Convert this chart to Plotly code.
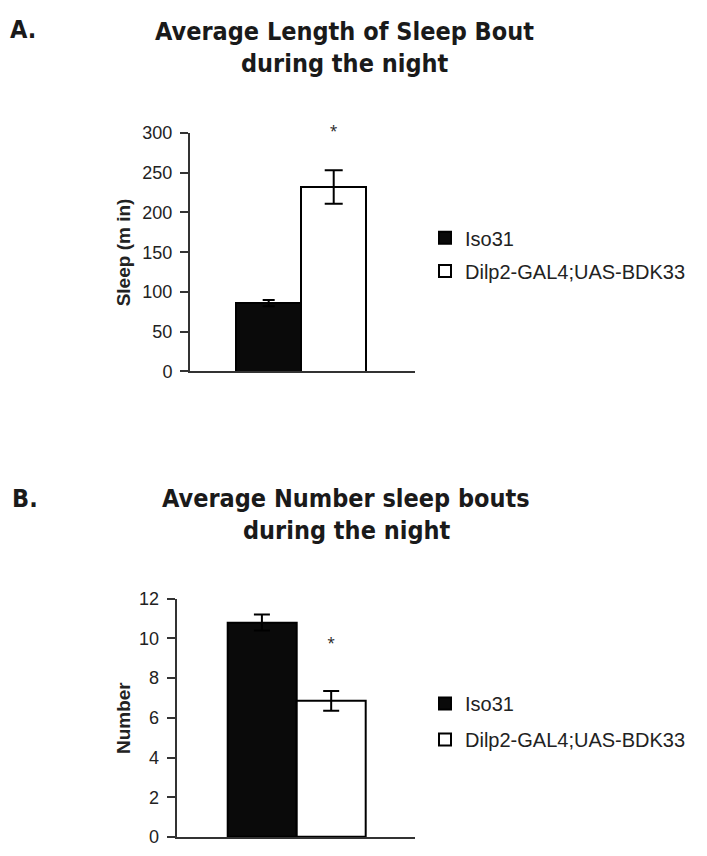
import plotly.graph_objects as go

# ---- data ----
categories = ["Iso31", "Dilp2-GAL4;UAS-BDK33"]
bout_length = [86, 232]
bout_length_err = [4, 21]
bout_number = [10.8, 6.85]
bout_number_err = [0.4, 0.5]
sig_length = [300]
sig_number = [9.7]
length_ticks = [0, 50, 100, 150, 200, 250, 300]
number_ticks = [0, 2, 4, 6, 8, 10, 12]

# page body has an 8px default margin; size the figure to fill the rest of the window
OFF = 8
W, H = 707 - OFF, 856 - OFF
def px(x):
    return (x - OFF) / W
def py(y):
    return 1 - (y - OFF) / H

TITLE_FONT = dict(family="Liberation Sans Narrow, Arial Narrow, DejaVu Sans Condensed, sans-serif", size=25, color="#1a1a1a")
TICK_FONT = dict(family="Liberation Sans, Arial, sans-serif", size=18, color="#222")
LEG_FONT = dict(family="Liberation Sans, Arial, sans-serif", size=20, color="#222")
YT_FONT = dict(family="Liberation Sans, Arial, sans-serif", size=19, color="#222")

fills = ["#0a0a0a", "#ffffff"]
legends_A = ["legend", "legend2"]
legends_B = ["legend3", "legend4"]

fig = go.Figure()

for i in range(2):
    fig.add_trace(go.Bar(
        x=[categories[i]], y=[bout_length[i]], name=categories[i],
        marker=dict(color=fills[i], line=dict(color="black", width=2)),
        error_y=dict(type="data", array=[bout_length_err[i]], color="black", thickness=2, width=6 if i == 0 else 9),
        xaxis="x", yaxis="y", legend=legends_A[i], width=1,
    ))
fig.add_trace(go.Scatter(x=[categories[1]], y=sig_length, mode="text", text=["*"], cliponaxis=False,
                         textfont=dict(size=14, color="#222"), showlegend=False, xaxis="x", yaxis="y"))

for i in range(2):
    fig.add_trace(go.Bar(
        x=[categories[i]], y=[bout_number[i]], name=categories[i],
        marker=dict(color=fills[i], line=dict(color="black", width=2)),
        error_y=dict(type="data", array=[bout_number_err[i]], color="black", thickness=2, width=8),
        xaxis="x2", yaxis="y2", legend=legends_B[i], width=1,
    ))
fig.add_trace(go.Scatter(x=[categories[1]], y=sig_number, mode="text", text=["*"], cliponaxis=False,
                         textfont=dict(size=14, color="#222"), showlegend=False, xaxis="x2", yaxis="y2"))

common_x = dict(type="category", showticklabels=False, ticks="", showline=True, linecolor="#333",
                linewidth=2, showgrid=False, zeroline=False, fixedrange=True)
common_y = dict(ticks="outside", ticklen=8, tickwidth=2, tickcolor="#333", showline=True, linecolor="#333",
                linewidth=2, showgrid=False, zeroline=False, tickfont=TICK_FONT, ticklabelstandoff=4)

leg_common = dict(font=LEG_FONT, bgcolor="rgba(0,0,0,0)", xanchor="left", yanchor="middle", borderwidth=0)

fig.update_layout(
    width=W, height=H, margin=dict(l=0, r=0, t=0, b=0),
    paper_bgcolor="white", plot_bgcolor="white", barmode="overlay", bargap=0,
    xaxis=dict(common_x, domain=[px(190), px(415)], anchor="y", range=[-1.21, 2.25]),
    yaxis=dict(common_y, domain=[py(370), py(125.7)], anchor="x", range=[0, 300], tickvals=length_ticks),
    xaxis2=dict(common_x, domain=[px(176.7), px(415)], anchor="y2", range=[-1.23, 2.21]),
    yaxis2=dict(common_y, domain=[py(846.7), py(602.7)], anchor="x2", range=[0, 12], tickvals=number_ticks),
    legend=dict(leg_common, x=px(425), y=py(233)),
    legend2=dict(leg_common, x=px(425), y=py(267)),
    legend3=dict(leg_common, x=px(425), y=py(710)),
    legend4=dict(leg_common, x=px(425), y=py(747)),
    showlegend=True,
)

ann = []
def text_ann(t, x, y, font, xanchor="center", angle=0):
    ann.append(dict(text=t, x=px(x), y=py(y), xref="paper", yref="paper", showarrow=False,
                    xanchor=xanchor, yanchor="middle", font=font, textangle=angle))

text_ann("<b>A.</b>", 8, 20, TITLE_FONT, xanchor="left")
text_ann("<b>Average Length of Sleep Bout</b>", 344, 22, TITLE_FONT)
text_ann("<b>during the night</b>", 345, 55, TITLE_FONT)
text_ann("<b>B.</b>", 10, 500, TITLE_FONT, xanchor="left")
text_ann("<b>Average Number sleep bouts</b>", 346, 500, TITLE_FONT)
text_ann("<b>during the night</b>", 347, 533, TITLE_FONT)
text_ann("<b>Sleep (m in)</b>", 123, 248, YT_FONT, angle=-90)
text_ann("<b>Number</b>", 123, 725, YT_FONT, angle=-90)
fig.update_layout(annotations=ann)

fig.write_html("out.html")
